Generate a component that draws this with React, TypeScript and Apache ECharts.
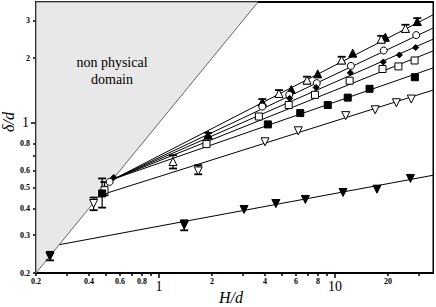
import React, { useEffect, useRef } from "react";
import * as echarts from "echarts";

// Axis ticks / labels
const xTickValues = [0.2, 0.3, 0.4, 0.5, 0.6, 0.7, 0.8, 0.9, 2, 3, 4, 5, 6, 7, 8, 9, 20, 30];
const xSmallLabels = [0.2, 0.4, 0.6, 0.8, 2, 4, 6, 8, 20];
const xBigLabels = [1, 10];
const yTickValues = [0.2, 0.3, 0.4, 0.5, 0.6, 0.7, 0.8, 2, 3];
const ySmallLabels = [0.2, 0.3, 0.4, 0.5, 0.6, 0.8, 2, 3];
const yBigLabels = [1];

// Non physical domain (delta > H)
const domainX = [0.2, 0.2, 3.65];
const domainY = [0.2, 3.65, 3.65];

// Data series
const triUpFilledX = [1.9, 3.86, 5.64, 7.97, 12.6, 19.3, 29.3];
const triUpFilledY = [0.877, 1.25, 1.43, 1.69, 2.11, 2.5, 2.96];

const triUpOpenX = [1.2, 4.8, 6.93, 10.9, 18.3, 25.1];
const triUpOpenY = [0.66, 1.37, 1.58, 1.96, 2.45, 2.75];

const circleX = [0.524, 3.86, 5.49, 7.87, 12.3, 18.9, 28.9];
const circleY = [0.531, 1.19, 1.35, 1.53, 1.84, 2.17, 2.56];

const diamondX = [0.553, 1.9, 5.52, 7.8, 12.2, 18.8, 23.2, 28.7];
const diamondY = [0.557, 0.86, 1.3, 1.46, 1.71, 1.92, 2.07, 2.24];

const squareOpenX = [0.49, 1.86, 3.69, 5.45, 7.69, 12.1, 18.6, 22.9, 28.3];
const squareOpenY = [0.486, 0.796, 1.07, 1.21, 1.35, 1.57, 1.78, 1.83, 1.95];

const squareFilledX = [0.475, 4.15, 6.34, 9.09, 11.8, 15.7, 28.4];
const squareFilledY = [0.469, 0.983, 1.11, 1.21, 1.31, 1.44, 1.63];

const triDownOpenX = [0.425, 1.67, 4.0, 6.18, 11.5, 16.9, 22.3, 27.1];
const triDownOpenY = [0.421, 0.597, 0.816, 0.918, 1.08, 1.15, 1.24, 1.29];

const triDownFilledX = [0.24, 1.39, 3.04, 4.61, 6.78, 11.1, 17.3, 26.8];
const triDownFilledY = [0.239, 0.334, 0.395, 0.421, 0.44, 0.474, 0.491, 0.551];

// Error bars
const errX = [0.24, 1.39, 0.425, 1.67, 0.475, 0.49, 1.2, 1.9, 3.86, 4.8, 6.93, 10.9, 18.3, 25.1, 29.3];
const errLow = [0.229, 0.316, 0.392, 0.576, 0.403, 0.46, 0.613, 0.855, 1.21, 1.32, 1.52, 1.89, 2.36, 2.65, 2.85];
const errHigh = [0.251, 0.352, 0.449, 0.635, 0.551, 0.53, 0.707, 0.898, 1.29, 1.42, 1.64, 2.03, 2.54, 2.86, 3.07];

// Fitted power-law lines (start / end points)
const fitStartX = [0.56, 0.56, 0.56, 0.56, 0.56, 0.51, 0.272];
const fitStartY = [0.55, 0.55, 0.55, 0.55, 0.55, 0.472, 0.271];
const fitEndX = [36, 36, 36, 36, 36, 36, 36];
const fitEndY = [3.18, 2.76, 2.45, 2.16, 1.8, 1.42, 0.57];

const SERIF = "'Liberation Serif', 'DejaVu Serif', serif";
const fmt = (v: number) => String(Number(Number(v).toPrecision(6)));

const zip = (xs: number[], ys: number[]) => xs.map((x, i) => [x, ys[i]]);

export default function App() {
  const ref = useRef<HTMLDivElement>(null);
  useEffect(() => {
    document.body.style.margin = "0";
    if (!ref.current) return;
    const chart = echarts.init(ref.current, null, { renderer: "svg" });
    const X_MIN = 0.2, X_MAX = 36, Y_MIN = 0.2, Y_MAX = 3.65;

    const baseX = {
      type: "log" as const,
      logBase: 10,
      min: X_MIN,
      max: X_MAX,
      splitLine: { show: false },
    };
    const baseY = {
      type: "log" as const,
      logBase: 10,
      min: Y_MIN,
      max: Y_MAX,
      splitLine: { show: false },
    };

    const scatter = (name: string, xs: number[], ys: number[], symbol: string, size: number, filled: boolean, rotate = 0) => ({
      type: "scatter",
      name,
      data: zip(xs, ys),
      symbol,
      symbolSize: size,
      symbolRotate: rotate,
      z: 5,
      itemStyle: {
        color: filled ? "#000" : "#fff",
        borderColor: "#000",
        borderWidth: 1,
        opacity: 1,
      },
    });

    const fitSeries = fitStartX.map((sx, i) => ({
      type: "line",
      data: [
        [sx, fitStartY[i]],
        [fitEndX[i], fitEndY[i]],
      ],
      showSymbol: false,
      symbol: "none",
      lineStyle: { color: "#000", width: 1 },
      z: 3,
      silent: true,
    }));

    const option: any = {
      animation: false,
      backgroundColor: "#fff",
      grid: { left: 36, right: 3, top: 2, bottom: 34, show: true, borderColor: "#000", borderWidth: 1 },
      xAxis: [
        {
          ...baseX,
          position: "bottom",
          axisLine: { show: true, onZero: false, lineStyle: { color: "#000", width: 2 } },
          axisTick: { show: true, customValues: xTickValues, length: 3, lineStyle: { color: "#000", width: 1.5 } },
          axisLabel: {
            customValues: xSmallLabels,
            formatter: fmt,
            fontSize: 8,
            fontWeight: "bold",
            fontFamily: SERIF,
            color: "#000",
            margin: 4,
          },
        },
        {
          ...baseX,
          position: "bottom",
          axisLine: { show: false },
          axisTick: { show: true, customValues: xBigLabels, length: 5, lineStyle: { color: "#000", width: 1.5 } },
          axisLabel: {
            customValues: xBigLabels,
            formatter: fmt,
            fontSize: 14,
            fontFamily: SERIF,
            color: "#000",
            margin: 6,
          },
        },
        {
          ...baseX,
          position: "top",
          axisLine: { show: true, onZero: false, lineStyle: { color: "#000", width: 2 } },
          axisTick: { show: false },
          axisLabel: { show: false },
        },
      ],
      yAxis: [
        {
          ...baseY,
          position: "left",
          axisLine: { show: true, onZero: false, lineStyle: { color: "#000", width: 2 } },
          axisTick: { show: true, customValues: yTickValues, length: 3, lineStyle: { color: "#000", width: 1.5 } },
          axisLabel: {
            customValues: ySmallLabels,
            formatter: fmt,
            fontSize: 8,
            fontWeight: "bold",
            fontFamily: SERIF,
            color: "#000",
            margin: 6,
          },
        },
        {
          ...baseY,
          position: "left",
          axisLine: { show: false },
          axisTick: { show: true, customValues: yBigLabels, length: 5, lineStyle: { color: "#000", width: 1.5 } },
          axisLabel: {
            customValues: yBigLabels,
            formatter: fmt,
            fontSize: 14,
            fontFamily: SERIF,
            color: "#000",
            margin: 7,
          },
        },
        {
          ...baseY,
          position: "right",
          axisLine: { show: true, onZero: false, lineStyle: { color: "#000", width: 1 } },
          axisTick: { show: false },
          axisLabel: { show: false },
        },
      ],
      series: [
        {
          type: "custom",
          data: zip(domainX, domainY),
          encode: { x: 0, y: 1 },
          z: 1,
          silent: true,
          renderItem: (params: any, api: any) => {
            if (params.dataIndex !== 0) return null;
            const pts = domainX.map((x, i) => api.coord([x, domainY[i]]));
            return {
              type: "polygon",
              shape: { points: pts },
              style: { fill: "#e8e8e8", stroke: "#666", lineWidth: 1 },
            };
          },
        },
        ...fitSeries,
        {
          type: "custom",
          data: errX.map((x, i) => [x, errLow[i], errHigh[i]]),
          encode: { x: 0, y: [1, 2] },
          z: 4,
          silent: true,
          renderItem: (_params: any, api: any) => {
            const x = api.value(0);
            const lo = api.coord([x, api.value(1)]);
            const hi = api.coord([x, api.value(2)]);
            const w = 4;
            const st = { stroke: "#000", lineWidth: 1.2 };
            return {
              type: "group",
              children: [
                { type: "line", shape: { x1: lo[0], y1: lo[1], x2: hi[0], y2: hi[1] }, style: st },
                { type: "line", shape: { x1: lo[0] - w, y1: lo[1], x2: lo[0] + w, y2: lo[1] }, style: { stroke: "#000", lineWidth: 1.8 } },
                { type: "line", shape: { x1: hi[0] - w, y1: hi[1], x2: hi[0] + w, y2: hi[1] }, style: { stroke: "#000", lineWidth: 1.8 } },
              ],
            };
          },
        },
        scatter("tri-up-filled", triUpFilledX, triUpFilledY, "triangle", 8, true),
        scatter("tri-up-open", triUpOpenX, triUpOpenY, "triangle", 8, false),
        scatter("circle", circleX, circleY, "circle", 7, false),
        scatter("diamond", diamondX, diamondY, "diamond", 6, true),
        scatter("square-open", squareOpenX, squareOpenY, "rect", 7, false),
        scatter("square-filled", squareFilledX, squareFilledY, "rect", 7, true),
        scatter("tri-down-open", triDownOpenX, triDownOpenY, "triangle", 8, false, 180),
        scatter("tri-down-filled", triDownFilledX, triDownFilledY, "triangle", 8, true, 180),
      ],
      graphic: [
        {
          type: "text",
          x: 112,
          y: 54,
          z: 10,
          style: {
            text: "non physical\ndomain",
            fontFamily: SERIF,
            fontSize: 14,
            lineHeight: 17,
            fill: "#000",
            align: "center",
            verticalAlign: "top",
          },
        },
        {
          type: "text",
          x: 231,
          y: 297,
          style: {
            text: "H/d",
            fontFamily: SERIF,
            fontStyle: "italic",
            fontSize: 16,
            fill: "#000",
            align: "center",
            verticalAlign: "middle",
          },
        },
        {
          type: "text",
          x: 8,
          y: 122,
          rotation: Math.PI / 2,
          style: {
            text: "δ/d",
            fontFamily: SERIF,
            fontStyle: "italic",
            fontSize: 16,
            fill: "#000",
            align: "center",
            verticalAlign: "middle",
          },
        },
      ],
    };
    chart.setOption(option);
    return () => chart.dispose();
  }, []);
  return <div ref={ref} style={{ width: 436, height: 307 }} />;
}
